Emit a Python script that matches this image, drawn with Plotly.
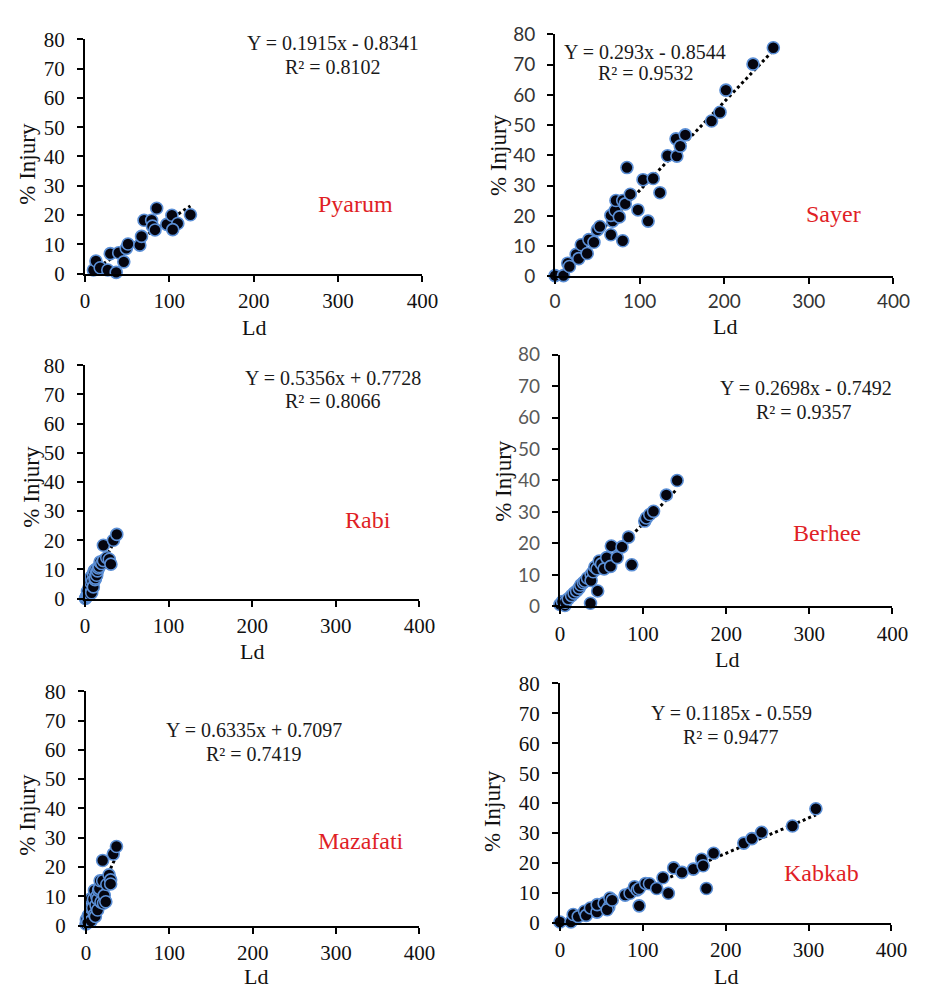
import plotly.graph_objects as go

# ---- data: leaf damage (Ld) vs % injury for six cultivars ----
PYARUM_LD = [10, 13, 18, 27, 37, 30, 40, 46, 49, 51, 65, 67, 70, 79, 80, 83, 85, 97, 103, 110, 104, 125]
PYARUM_INJ = [1.2, 4.3, 2.0, 1.2, 0.4, 6.8, 7.1, 4.0, 8.6, 10.1, 9.7, 12.7, 18.2, 18.2, 16.2, 14.9, 22.3, 16.8, 19.9, 17.1, 15.0, 20.1]

SAYER_LD = [0, 10, 15, 17, 25, 28, 31, 38, 40, 46, 50, 53, 66, 68, 66, 71, 76, 72, 80, 83, 89, 80, 85, 98,
            110, 104, 116, 124, 133, 144, 143, 148, 154, 185, 195, 202, 234, 258]
SAYER_INJ = [0.3, 0.3, 4.4, 3.3, 7.3, 5.9, 10.5, 7.6, 12.2, 11.3, 15.4, 16.5, 13.8, 18.3, 20.2, 21.8, 19.7, 25.1,
             25.1, 24.0, 27.2, 11.8, 36.0, 22.0, 18.3, 32.0, 32.4, 27.7, 39.9, 39.8, 45.5, 43.1, 46.8, 51.4, 54.3,
             61.6, 70.2, 75.6]

RABI_LD = [0.5, 1.5, 2.5, 3, 4, 5, 5.5, 6, 7, 7.5, 8, 9, 10, 10, 11, 12, 12.5, 13, 14, 15, 16, 17, 18, 20, 22,
           22, 26, 29, 31, 34, 38]
RABI_INJ = [0.0, 0.5, 1.0, 2.5, 1.2, 3.5, 4.5, 1.5, 5.5, 7.5, 2.0, 6.0, 8.5, 4.0, 9.5, 6.5, 7.0, 10.0, 8.0, 9.5,
            10.5, 11.0, 12.5, 12.0, 13.0, 18.3, 14.0, 13.5, 11.8, 20.0, 22.0]

BERHEE_LD = [0, 3, 6, 6.3, 10, 14, 17, 20, 23, 25, 28, 30, 33, 37.5, 37.5, 36.8, 40, 42, 44.6, 45.4, 47.3, 50,
             53.2, 56.3, 61, 61.8, 68.9, 74.7, 82.5, 86.4, 102, 104, 108, 112.6, 128, 141]
BERHEE_INJ = [0.6, 1.5, 0.3, 1.3, 2.4, 3.4, 4.2, 4.9, 5.8, 6.8, 7.5, 8.0, 9.0, 10.1, 8.2, 1.0, 11.0, 12.5, 11.9,
              4.9, 14.4, 13.5, 11.9, 15.5, 12.7, 19.2, 15.5, 18.9, 22.0, 13.2, 27.1, 28.1, 29.2, 30.2, 35.4, 40.0]

MAZAFATI_LD = [0, 0.5, 2, 3, 5, 6, 6.2, 6.2, 8, 9, 10.2, 10.2, 11.3, 12, 13, 14, 14, 15.2, 16, 17, 18, 20, 21, 20,
               21.9, 23.8, 25, 27.7, 29.6, 29.6, 32.7, 36.6]
MAZAFATI_INJ = [0.5, 2.0, 1.0, 3.5, 3.5, 1.5, 5.9, 9.2, 6.0, 9.0, 3.7, 12.0, 3.1, 7.0, 10.0, 5.3, 9.0, 12.0, 12.6,
                15.3, 8.0, 15.3, 7.6, 22.2, 10.3, 8.1, 14.0, 17.3, 15.6, 14.2, 24.4, 27.0]

KABKAB_LD = [0, 13.3, 16, 22, 29.8, 31.7, 36.8, 44.7, 45, 53.3, 59, 57, 60.3, 63, 78.7, 84.6, 90, 93.2, 95.6, 95.6,
             103.4, 108, 116.7, 124.3, 130.8, 137.2, 147.3, 161, 171, 172.8, 176.7, 185.4, 221.8, 231.6, 243.3,
             280.5, 308.8]
KABKAB_INJ = [0.2, 0.2, 2.7, 2.0, 3.8, 2.4, 4.9, 3.5, 6.0, 6.5, 5.2, 4.3, 8.2, 7.5, 9.2, 9.8, 12.0, 10.9, 11.4, 5.6,
              13.1, 13.0, 11.4, 15.0, 9.8, 18.3, 16.8, 17.9, 21.2, 19.0, 11.4, 23.2, 26.6, 28.1, 30.2, 32.3, 38.1]

# linear fits (slope, intercept, R²) and cultivar names
NAMES = ["Pyarum", "Sayer", "Rabi", "Berhee", "Mazafati", "Kabkab"]
SLOPES = [0.1915, 0.293, 0.5356, 0.2698, 0.6335, 0.1185]
INTERCEPTS = [-0.8341, -0.8544, 0.7728, -0.7492, 0.7097, -0.559]
R2 = ["0.8102", "0.9532", "0.8066", "0.9357", "0.7419", "0.9477"]
SLOPE_TXT = ["0.1915", "0.293", "0.5356", "0.2698", "0.6335", "0.1185"]
INTERCEPT_TXT = ["0.8341", "0.8544", "0.7728", "0.7492", "0.7097", "0.559"]

X_TICKS = [0, 100, 200, 300, 400]
Y_TICKS = [0, 10, 20, 30, 40, 50, 60, 70, 80]

W, H = 928, 999
SERIF = "Liberation Serif, Times New Roman, serif"
SANS = "Lato, Calibri, sans-serif"

series = [
    (PYARUM_LD, PYARUM_INJ),
    (SAYER_LD, SAYER_INJ),
    (RABI_LD, RABI_INJ),
    (BERHEE_LD, BERHEE_INJ),
    (MAZAFATI_LD, MAZAFATI_INJ),
    (KABKAB_LD, KABKAB_INJ),
]

# plot-area boxes in pixels: (left, right, top, bottom)
boxes = [
    (81, 427, 28, 268),
    (563, 910, 23, 271),
    (81, 424, 362, 601),
    (568, 909, 351, 609),
    (82, 424, 696, 936),
    (568, 908, 688, 933),
]

# tick-label styling per panel: (x font, x size, x color, y font, y size, y color)
tick_styles = [
    (SERIF, 21, "#111111", SERIF, 21, "#111111"),
    (SANS, 19, "#333333", SANS, 19, "#333333"),
    (SERIF, 21, "#111111", SERIF, 21, "#111111"),
    (SERIF, 21, "#111111", SANS, 19, "#595959"),
    (SERIF, 21, "#111111", SERIF, 21, "#111111"),
    (SERIF, 21, "#111111", SERIF, 21, "#111111"),
]

# text placement in data units: equation (x, y), R² (x, y), name (x, y)
eq_pos = [(294, 78.7), (106, 74.2), (296, 75.6), (296, 69.4), (201, 66.7), (207, 70.0)]
r2_pos = [(294, 70.7), (107, 67.1), (296, 67.6), (294, 61.7), (202, 58.7), (206, 62.2)]
name_pos = [(321, 23.8), (329, 20.7), (338, 27.1), (321, 23.3), (330, 29.0), (316, 16.5)]

# axis-title centers in pixels
ld_title_px = [(254, 323), (737, 322), (252, 655), (739, 663), (256, 988), (738, 988)]
inj_title_px = [(22, 155), (505, 146), (26, 486), (510, 480), (22, 822), (499, 819)]

fig = go.Figure()
layout = dict(
    width=W, height=H, margin=dict(l=0, r=0, t=0, b=0),
    paper_bgcolor="white", plot_bgcolor="white", showlegend=False,
)
annotations = []

for i, ((ld, inj), (l, r, t, b)) in enumerate(zip(series, boxes)):
    n = "" if i == 0 else str(i + 1)
    xa, ya = "x" + n, "y" + n
    xfont, xsize, xcol, yfont, ysize, ycol = tick_styles[i]

    layout["xaxis" + n] = dict(
        domain=[l / W, r / W], anchor=ya, range=[0, 400], tickvals=X_TICKS,
        showgrid=False, zeroline=False, showline=True, linecolor="black", linewidth=2,
        ticks="outside", ticklen=6, tickwidth=2, tickcolor="black",
        tickfont=dict(family=xfont, size=xsize, color=xcol), ticklabelstandoff=1,
    )
    layout["yaxis" + n] = dict(
        domain=[1 - b / H, 1 - t / H], anchor=xa, range=[0, 80], tickvals=Y_TICKS,
        showgrid=False, zeroline=False, showline=True, linecolor="black", linewidth=2,
        ticks="outside", ticklen=6, tickwidth=2, tickcolor="black",
        tickfont=dict(family=yfont, size=ysize, color=ycol), ticklabelstandoff=8,
    )

    # dotted linear trendline over the data range
    x0, x1 = min(ld), max(ld)
    fig.add_trace(go.Scatter(
        x=[x0, x1], y=[SLOPES[i] * x0 + INTERCEPTS[i], SLOPES[i] * x1 + INTERCEPTS[i]],
        mode="lines", line=dict(color="black", width=3, dash="dot"),
        xaxis=xa, yaxis=ya, hoverinfo="skip", cliponaxis=False,
    ))
    fig.add_trace(go.Scatter(
        x=ld, y=inj, mode="markers", xaxis=xa, yaxis=ya, cliponaxis=False,
        marker=dict(size=12, color="#05050f", line=dict(color="#5b8fd6", width=1.6)),
    ))

    sign = "-" if INTERCEPTS[i] < 0 else "+"
    eq_text = f"Y = {SLOPE_TXT[i]}x {sign} {INTERCEPT_TXT[i]}"
    annotations.append(dict(
        x=eq_pos[i][0], y=eq_pos[i][1], xref=xa, yref=ya, text=eq_text, showarrow=False,
        xanchor="center", yanchor="middle", font=dict(family=SERIF, size=20, color="#1a1a1a"),
    ))
    annotations.append(dict(
        x=r2_pos[i][0], y=r2_pos[i][1], xref=xa, yref=ya, text=f"R² = {R2[i]}", showarrow=False,
        xanchor="center", yanchor="middle", font=dict(family=SERIF, size=20, color="#1a1a1a"),
    ))
    annotations.append(dict(
        x=name_pos[i][0], y=name_pos[i][1], xref=xa, yref=ya, text=NAMES[i], showarrow=False,
        xanchor="center", yanchor="middle", font=dict(family=SERIF, size=24, color="#e01f26"),
    ))
    # axis titles
    lx, ly = ld_title_px[i]
    annotations.append(dict(
        x=lx / W, y=1 - ly / H, xref="paper", yref="paper", text="Ld", showarrow=False,
        xanchor="center", yanchor="middle", font=dict(family=SERIF, size=22, color="#111111"),
    ))
    ix, iy = inj_title_px[i]
    annotations.append(dict(
        x=ix / W, y=1 - iy / H, xref="paper", yref="paper", text="% Injury", showarrow=False,
        textangle=-90, xanchor="center", yanchor="middle",
        font=dict(family=SERIF, size=23, color="#111111"),
    ))

layout["annotations"] = annotations
fig.update_layout(**layout)
fig.write_html("out.html")
